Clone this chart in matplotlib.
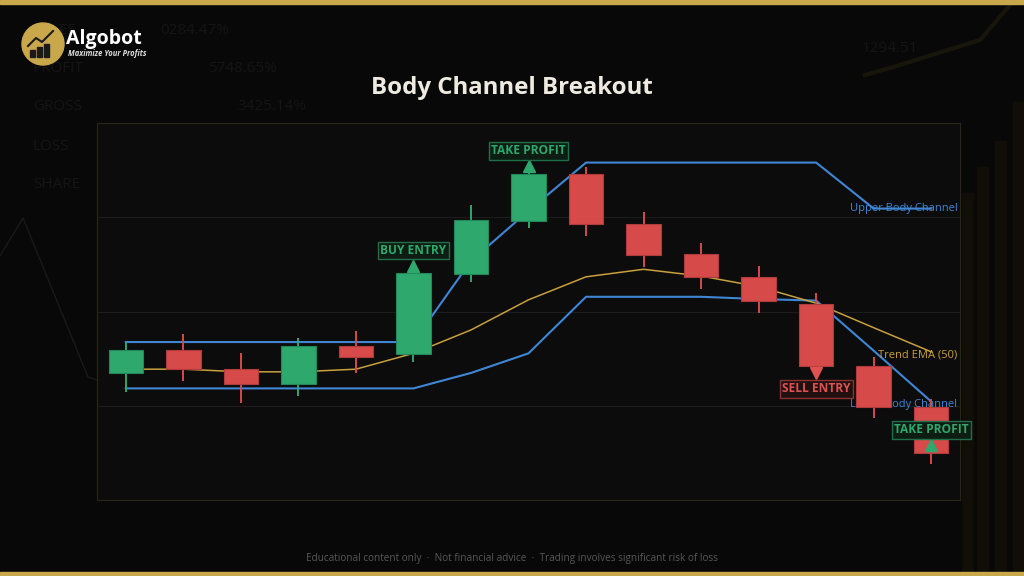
import numpy as np
import matplotlib.pyplot as plt
from matplotlib.patches import Rectangle, Circle
from matplotlib.lines import Line2D
from matplotlib.transforms import offset_copy, blended_transform_factory

plt.rcParams['font.family'] = ['Open Sans', 'DejaVu Sans']

# velas (precio en unidades arbitrarias, 0-100)
opens  = [33.8, 39.9, 34.7, 30.8, 40.8, 38.8, 59.9, 74.1, 86.4, 73.2, 65.2, 59.1, 52.0, 35.6, 24.7]
highs  = [41.9, 44.0, 38.9, 43.0, 44.9, 61.0, 78.2, 87.1, 88.4, 76.4, 68.1, 62.1, 54.8, 37.9, 26.8]
lows   = [28.6, 31.6, 25.6, 27.6, 33.8, 36.7, 57.9, 72.1, 70.0, 61.9, 55.9, 49.7, 35.2, 21.7, 9.5]
closes = [39.8, 34.7, 30.8, 40.8, 37.9, 60.1, 74.3, 86.5, 73.1, 65.0, 59.1, 52.9, 35.6, 24.7, 12.5]

upper_channel = [41.9, 41.9, 41.9, 41.9, 41.9, 41.9, 63.4, 76.7, 89.5, 89.5, 89.5, 89.5, 89.5, 77.3, 77.3]
lower_channel = [29.6, 29.6, 29.6, 29.6, 29.6, 29.6, 33.7, 38.9, 53.9, 53.9, 53.9, 53.3, 52.9, 39.6, 26.1]
trend_ema     = [34.7, 34.7, 34.0, 34.0, 34.7, 38.9, 45.1, 53.1, 59.2, 61.2, 59.4, 56.6, 52.2, 45.7, 39.3]

signal_idx  = [5, 7, 12, 14]
signal_text = ["BUY ENTRY", "TAKE PROFIT", "SELL ENTRY", "TAKE PROFIT"]
signal_dir  = [1, 1, -1, 1]

GREEN = "#2ea86c"
RED = "#d64a4a"
BLUE = "#3f86d4"
GOLD = "#c8a03c"
BG = "#080808"

fig = plt.figure(figsize=(10.24, 5.76), dpi=100, facecolor=BG)

def px(x, y):
    return x / 1024, 1 - y / 576

# fondo decorativo tenue (debajo de los ejes)
faint = "#151515"
for label, val, y, xv in [("SALES", "0284.47%", 30, 160), ("PROFIT", "5748.65%", 69, 208),
                          ("GROSS", "3425.14%", 107, 237), ("LOSS", "", 146, 0), ("SHARE", "", 185, 0)]:
    fig.text(*px(33, y), label, color=faint, fontsize=11, va="center", zorder=-1)
    if val:
        fig.text(*px(xv, y), val, color=faint, fontsize=11, va="center", zorder=-1)
fig.text(*px(862, 48), "1294.51", color=faint, fontsize=11, va="center", zorder=-1)
fig.add_artist(Line2D([0, 23 / 1024, 88 / 1024, 97 / 1024],
                      [1 - 256 / 576, 1 - 218 / 576, 1 - 377 / 576, 1 - 380 / 576],
                      transform=fig.transFigure, color="#1a1a1a", lw=1, zorder=-1))
fig.add_artist(Line2D([865 / 1024, 890 / 1024, 980 / 1024, 1010 / 1024],
                      [1 - 75 / 576, 1 - 68 / 576, 1 - 40 / 576, 1 - 5 / 576],
                      transform=fig.transFigure, color="#18150b", lw=3, zorder=-1))
for bx, by in [(962, 193), (977, 167), (995, 141), (1013, 102)]:
    fig.add_artist(Rectangle(px(bx, 576), 11 / 1024, (576 - by) / 576,
                             transform=fig.transFigure, color="#100e07", zorder=-1))

# barras doradas arriba y abajo
fig.add_artist(Rectangle((0, 1 - 4 / 576), 1, 4 / 576, transform=fig.transFigure, color="#c9a84c"))
fig.add_artist(Rectangle((0, 0), 1, 4 / 576, transform=fig.transFigure, color="#c9a84c"))

# logo
fig.add_artist(Circle((0.43, 5.32), 0.21, transform=fig.dpi_scale_trans, color="#c9a84c", zorder=2))
for bx, bh in [(0.30, 0.07), (0.37, 0.10), (0.44, 0.13)]:
    fig.add_artist(Rectangle((bx, 5.19), 0.045, bh, transform=fig.dpi_scale_trans,
                             color="#1a1a1a", zorder=2.1))
fig.add_artist(Line2D([0.28, 0.36, 0.42, 0.53], [5.30, 5.38, 5.34, 5.45],
                      transform=fig.dpi_scale_trans, color="#1a1a1a", lw=1.5, zorder=2.1))
fig.text(*px(66, 39), "Algobot", color="white", fontsize=14, weight="bold", va="center", zorder=3)
fig.text(*px(68, 53), "Maximize Your Profits", color="#dddddd", fontsize=5.5,
         style="italic", weight="bold", va="center", zorder=3)

fig.text(0.5, 1 - 88 / 576, "Body Channel Breakout", color="#efeadf", fontsize=17.3,
         weight="bold", ha="center", va="center")
fig.text(0.5, 1 - 558 / 576,
         "Educational content only  \u00b7  Not financial advice  \u00b7  Trading involves significant risk of loss",
         color="#575757", fontsize=7.2, ha="center", va="center")

# grafico principal
ax = fig.add_axes([97 / 1024, 76 / 576, 863 / 1024, 377 / 576])
ax.set_facecolor("#0c0c0c")
x = np.arange(len(opens))
ax.set_xlim(-0.5, len(opens) - 0.5)
ax.set_ylim(0, 100)
ax.set_yticks([25, 50, 75])
ax.set_xticks([])
ax.grid(axis="y", color="#1c1c1c", lw=0.8)
ax.tick_params(length=0, labelleft=False, labelbottom=False)
for s in ax.spines.values():
    s.set_color("#2a2618")
    s.set_linewidth(0.8)

ax.plot(x, upper_channel, color=BLUE, lw=1.5, zorder=2)
ax.plot(x, lower_channel, color=BLUE, lw=1.5, zorder=2)
ax.plot(x, trend_ema, color=GOLD, lw=1.1, zorder=2)

opens_a, closes_a = np.array(opens), np.array(closes)
up = closes_a >= opens_a
colors = [GREEN if u else RED for u in up]
edges = ["#23875a" if u else "#b03b3b" for u in up]
ax.vlines(x, lows, highs, colors=colors, lw=1.4, zorder=3)
ax.bar(x, closes_a - opens_a, bottom=opens_a, width=0.6, color=colors,
       edgecolor=edges, linewidth=0.8, zorder=4)

# etiquetas de las lineas
tr = blended_transform_factory(ax.transAxes, ax.transData)
ax.text(0.997, upper_channel[-1], "Upper Body Channel", transform=tr, color=BLUE,
        fontsize=8, ha="right", va="center", zorder=2.5)
ax.text(0.997, trend_ema[-1] - 0.8, "Trend EMA (50)", transform=tr, color=GOLD,
        fontsize=8, ha="right", va="center", zorder=2.5)
ax.text(0.997, lower_channel[-1] - 0.9, "Lower Body Channel", transform=tr, color=BLUE,
        fontsize=8, ha="right", va="center", zorder=2.5)

# senales
for i, txt, d in zip(signal_idx, signal_text, signal_dir):
    if txt == "SELL ENTRY":
        c, fc, ec = "#e05252", "#221010", "#8c3030"
    else:
        c, fc, ec = GREEN, "#0d1d14", "#1f7048"
    mtr = offset_copy(ax.transData, fig=fig, y=5.5 * d, units="points")
    ax.plot(i, closes[i], marker="^" if d > 0 else "v", ms=9, color=c, transform=mtr,
            zorder=6, linestyle="none")
    ax.annotate(txt, xy=(i, closes[i]), xytext=(0, 16.5 * d), textcoords="offset points",
                ha="center", va="center", fontsize=8.6, weight="bold", color=c, zorder=7,
                annotation_clip=False, clip_on=False,
                bbox=dict(boxstyle="square,pad=0.2", fc=fc, ec=ec, lw=1))

fig.savefig("out.png", dpi=100, facecolor=BG)
